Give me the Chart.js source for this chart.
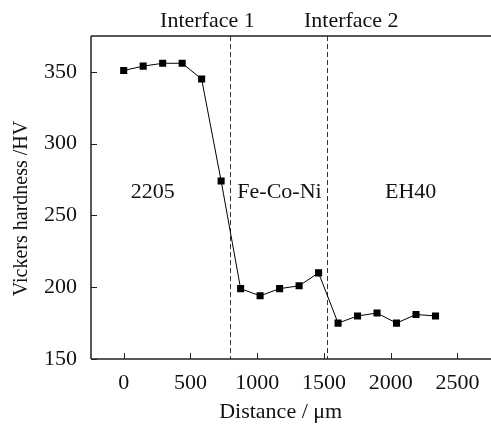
<!DOCTYPE html>
<html>
<head>
<meta charset="utf-8">
<script src="https://cdn.jsdelivr.net/npm/chart.js@4.4.0/dist/chart.umd.min.js"></script>
<style>
  html, body { margin: 0; padding: 0; background: #fff; }
  #wrap { width: 491px; height: 428px; }
</style>
</head>
<body>
<div id="wrap"><canvas id="chart"></canvas></div>
<script>
// hardness profile across the weld
const distance = [0, 146, 292, 438, 584, 730, 876, 1022, 1168, 1314, 1460, 1606, 1752, 1898, 2044, 2190, 2336];
const hardness = [351, 354, 356, 356, 345, 274, 199, 194, 199, 201, 210, 175, 180, 182, 175, 181, 180];

const xTicks = [0, 500, 1000, 1500, 2000, 2500];
const yTicks = [150, 200, 250, 300, 350];

// interfaces (um) and their labels
const interfaceAt = [795, 1525];
const interfaceNames = ['Interface 1', 'Interface 2'];
const interfaceLabelX = [627, 1705];

// zone names
const zoneNames = ['2205', 'Fe-Co-Ni', 'EH40'];
const zoneX = [218, 1167, 2150];
const zoneY = 262;

const FONT = '"Liberation Serif", "Times New Roman", serif';

const decor = {
  id: 'decor',
  beforeDatasetsDraw(chart) {
    const ctx = chart.ctx;
    const a = chart.chartArea;
    const x = chart.scales.x, y = chart.scales.y;
    ctx.save();
    // dashed interface lines
    ctx.strokeStyle = '#333';
    ctx.lineWidth = 1;
    ctx.setLineDash([5, 3]);
    interfaceAt.forEach(v => {
      const px = Math.round(x.getPixelForValue(v)) + 0.5;
      ctx.beginPath();
      ctx.moveTo(px, a.top);
      ctx.lineTo(px, a.bottom);
      ctx.stroke();
    });
    ctx.setLineDash([]);
    // frame: left, bottom, top (runs off the right edge)
    ctx.strokeStyle = '#222';
    ctx.lineWidth = 1.5;
    ctx.beginPath();
    ctx.moveTo(a.left, a.top);
    ctx.lineTo(a.left, a.bottom);
    ctx.moveTo(a.left, a.bottom);
    ctx.lineTo(chart.width, a.bottom);
    ctx.moveTo(a.left, a.top);
    ctx.lineTo(chart.width, a.top);
    ctx.stroke();
    // inward ticks
    ctx.lineWidth = 1;
    xTicks.forEach(v => {
      const px = Math.round(x.getPixelForValue(v)) + 0.5;
      ctx.beginPath();
      ctx.moveTo(px, a.bottom);
      ctx.lineTo(px, a.bottom - 6);
      ctx.stroke();
    });
    yTicks.forEach(v => {
      const py = Math.round(y.getPixelForValue(v)) + 0.5;
      ctx.beginPath();
      ctx.moveTo(a.left, py);
      ctx.lineTo(a.left + 6, py);
      ctx.stroke();
    });
    // text
    ctx.fillStyle = '#111';
    ctx.font = '22px ' + FONT;
    ctx.textAlign = 'center';
    ctx.textBaseline = 'alphabetic';
    interfaceNames.forEach((t, i) => {
      ctx.fillText(t, x.getPixelForValue(interfaceLabelX[i]), a.top - 9);
    });
    zoneNames.forEach((t, i) => {
      ctx.fillText(t, x.getPixelForValue(zoneX[i]), y.getPixelForValue(zoneY));
    });
    // y axis title, sits a little below the middle of the plot
    ctx.font = '20px ' + FONT;
    ctx.textBaseline = 'middle';
    ctx.translate(22, (a.top + a.bottom) / 2 + 11);
    ctx.rotate(-Math.PI / 2);
    ctx.fillText('Vickers hardness /HV', 0, 0);
    ctx.restore();
  }
};

new Chart(document.getElementById('chart'), {
  type: 'line',
  data: {
    datasets: [{
      data: distance.map((d, i) => ({ x: d, y: hardness[i] })),
      borderColor: '#000',
      borderWidth: 1,
      backgroundColor: '#000',
      pointStyle: 'rect',
      pointRadius: 5,
      pointBorderWidth: 0,
      tension: 0,
      fill: false
    }]
  },
  options: {
    responsive: true,
    maintainAspectRatio: false,
    animation: false,
    layout: { padding: { top: 36, right: 18, left: 0, bottom: 0 } },
    plugins: {
      legend: { display: false },
      tooltip: { enabled: false }
    },
    scales: {
      x: {
        type: 'linear',
        min: -245,
        max: 2597,
        afterBuildTicks: s => { s.ticks = xTicks.map(v => ({ value: v })); },
        afterFit: s => { s.height = 69; },
        grid: { display: false, drawTicks: false },
        border: { display: false },
        ticks: { color: '#111', padding: 11, font: { family: FONT, size: 22 }, callback: v => String(v) },
        title: {
          display: true,
          text: 'Distance / μm',
          color: '#111',
          padding: { top: 0, bottom: 3 },
          font: { family: FONT, size: 22 }
        }
      },
      y: {
        min: 150,
        max: 375,
        afterBuildTicks: s => { s.ticks = yTicks.map(v => ({ value: v })); },
        afterFit: s => { s.width = 91; },
        grid: { display: false, drawTicks: false },
        border: { display: false },
        ticks: { color: '#111', padding: 14, font: { family: FONT, size: 22 }, callback: v => String(v) }
      }
    }
  },
  plugins: [decor]
});
</script>
</body>
</html>
